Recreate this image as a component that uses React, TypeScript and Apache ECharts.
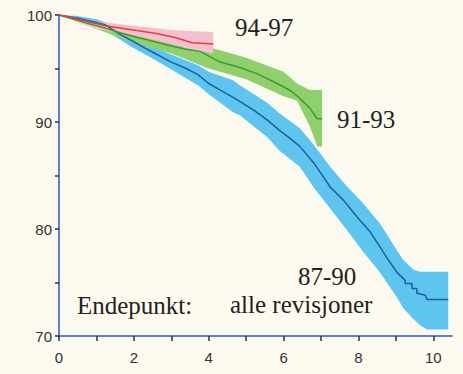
import React, { useEffect, useRef } from "react";
import * as echarts from "echarts";

// 87-90 (blue) Kaplan-Meier line
const blueX = [0, 0.5, 1.0, 1.23, 1.5, 1.68, 2.0, 2.3, 2.57, 3.0, 3.4, 3.72, 4.0, 4.3, 4.65, 4.84, 5.2, 5.56, 5.9, 6.2, 6.44, 6.8, 7.0, 7.25, 7.6, 7.97, 8.3, 8.58, 8.8, 9.04, 9.25, 9.25, 9.43, 9.43, 9.56, 9.56, 9.79, 9.83, 10.4];
const blueY = [100, 99.7, 99.3, 99.1, 98.5, 98.1, 97.5, 96.9, 96.4, 95.6, 95.0, 94.4, 93.6, 93.0, 92.3, 91.9, 91.1, 90.2, 89.2, 88.4, 87.7, 86.2, 85.2, 83.9, 82.7, 81.1, 79.8, 78.3, 77.1, 75.9, 75.2, 74.9, 74.9, 74.45, 74.45, 74.0, 73.8, 73.4, 73.4];
// 87-90 confidence band
const blueBandX = [0, 0.5, 1.0, 1.5, 2.0, 2.57, 3.0, 3.72, 4.0, 4.65, 4.84, 5.56, 5.9, 6.44, 6.8, 7.25, 7.69, 8.1, 8.58, 9.03, 9.2, 9.47, 9.65, 9.83, 10.4];
const blueLow = [100, 99.5, 99.0, 98.0, 96.9, 95.8, 94.9, 93.4, 92.6, 90.9, 90.6, 88.6, 87.3, 85.8, 83.9, 81.9, 79.9, 78.0, 75.9, 73.6, 72.6, 71.6, 71.0, 70.6, 70.6];
const blueHigh = [100, 99.9, 99.6, 99.0, 98.1, 96.9, 96.3, 95.3, 94.7, 93.9, 93.4, 91.8, 90.8, 89.4, 87.9, 85.8, 84.0, 82.5, 80.5, 78.0, 77.1, 76.2, 76.0, 76.0, 76.0];

// 91-93 (green)
const greenX = [0, 0.4, 0.78, 1.2, 1.68, 2.1, 2.57, 3.0, 3.4, 3.77, 4.3, 4.84, 5.3, 5.83, 6.2, 6.44, 6.7, 6.9, 7.03];
const greenY = [100, 99.6, 99.2, 98.8, 98.3, 97.9, 97.5, 97.1, 96.8, 96.6, 95.6, 95.1, 94.5, 93.6, 92.9, 92.2, 91.3, 90.3, 90.3];
const greenBandX = [0, 1.0, 2.0, 3.0, 4.0, 5.0, 6.0, 6.36, 6.7, 6.9, 7.03];
const greenLow = [100, 98.7, 97.4, 96.4, 95.0, 94.0, 92.4, 92.0, 89.6, 87.7, 87.7];
const greenHigh = [100, 99.4, 98.6, 97.9, 97.0, 96.0, 94.7, 93.6, 93.0, 93.0, 93.0];

// 94-97 (red)
const redX = [0, 0.5, 1.23, 1.8, 2.57, 3.1, 3.56, 4.12];
const redY = [100, 99.6, 99.0, 98.7, 98.3, 97.9, 97.4, 97.3];
const redBandX = [0, 1.0, 2.0, 3.0, 3.5, 4.12];
const redLow = [100, 98.7, 98.1, 97.3, 96.8, 96.4];
const redHigh = [100, 99.4, 99.0, 98.6, 98.5, 98.4];

const yTicks = [70, 80, 90, 100];
const xTicks = [0, 2, 4, 6, 8, 10];

const labels = [
  { text: "94-97", x: 235, y: 27 },
  { text: "91-93", x: 337, y: 119 },
  { text: "87-90", x: 298, y: 276 },
  { text: "alle revisjoner", x: 230, y: 304 },
  { text: "Endepunkt:", x: 77, y: 305 },
];

function lineSeries(xs: number[], ys: number[], color: string) {
  return {
    type: "line",
    data: xs.map((x, i) => [x, ys[i]]),
    symbol: "none",
    lineStyle: { color, width: 1.5 },
    z: 5,
    silent: true,
  };
}

function bandSeries(xs: number[], lo: number[], hi: number[], color: string) {
  return {
    type: "custom",
    data: [[xs[0], lo[0]]],
    silent: true,
    z: 2,
    renderItem: (_params: any, api: any) => {
      const top = xs.map((x, i) => api.coord([x, hi[i]]));
      const bottom = xs.map((x, i) => api.coord([x, lo[i]])).reverse();
      return {
        type: "polygon",
        shape: { points: [...top, ...bottom] },
        style: { fill: color, stroke: "none" },
      };
    },
  };
}

export default function App() {
  const ref = useRef<HTMLDivElement>(null);
  useEffect(() => {
    if (!ref.current) return;
    const chart = echarts.init(ref.current, undefined, { renderer: "svg" });
    const axisBlue = "#3554c4";
    chart.setOption({
      animation: false,
      backgroundColor: "#fcfaee",
      grid: { left: 59, top: 15, right: 11, bottom: 38, containLabel: false },
      xAxis: {
        type: "value",
        min: 0,
        max: 10.5,
        interval: 1,
        axisLine: { show: true, onZero: false, lineStyle: { color: axisBlue, width: 1.5 } },
        axisTick: { show: true, length: 5, lineStyle: { color: "#27306a", width: 1.5 } },
        splitLine: { show: false },
        axisLabel: {
          margin: 14,
          color: "#333",
          fontFamily: "Liberation Sans",
          fontSize: 15,
          showMaxLabel: false,
          formatter: (v: number) => (xTicks.includes(v) ? String(v) : ""),
        },
      },
      yAxis: {
        type: "value",
        min: 70,
        max: 100,
        interval: 5,
        axisLine: { show: true, onZero: false, lineStyle: { color: axisBlue, width: 1.5 } },
        axisTick: { show: true, length: 4, lineStyle: { color: "#27306a", width: 1.5 } },
        splitLine: { show: false },
        axisLabel: {
          margin: 7,
          color: "#333",
          fontFamily: "Liberation Sans",
          fontSize: 15,
          formatter: (v: number) => (yTicks.includes(v) ? String(v) : ""),
        },
      },
      series: [
        bandSeries(blueBandX, blueLow, blueHigh, "#5ec6ee"),
        bandSeries(greenBandX, greenLow, greenHigh, "#8fcf6c"),
        bandSeries(redBandX, redLow, redHigh, "#f5bfd0"),
        lineSeries(blueX, blueY, "#1d5ca6"),
        lineSeries(greenX, greenY, "#3d9a32"),
        lineSeries(redX, redY, "#e4403a"),
      ],
      graphic: labels.map((l) => ({
        type: "text",
        x: l.x,
        y: l.y,
        style: {
          text: l.text,
          fill: "#222",
          font: "25px 'Liberation Serif'",
          textAlign: "left",
          textVerticalAlign: "middle",
        },
        z: 10,
      })),
    });
    return () => chart.dispose();
  }, []);
  return (
    <div
      ref={ref}
      style={{ position: "fixed", left: 0, top: 0, width: 463, height: 374 }}
    />
  );
}
